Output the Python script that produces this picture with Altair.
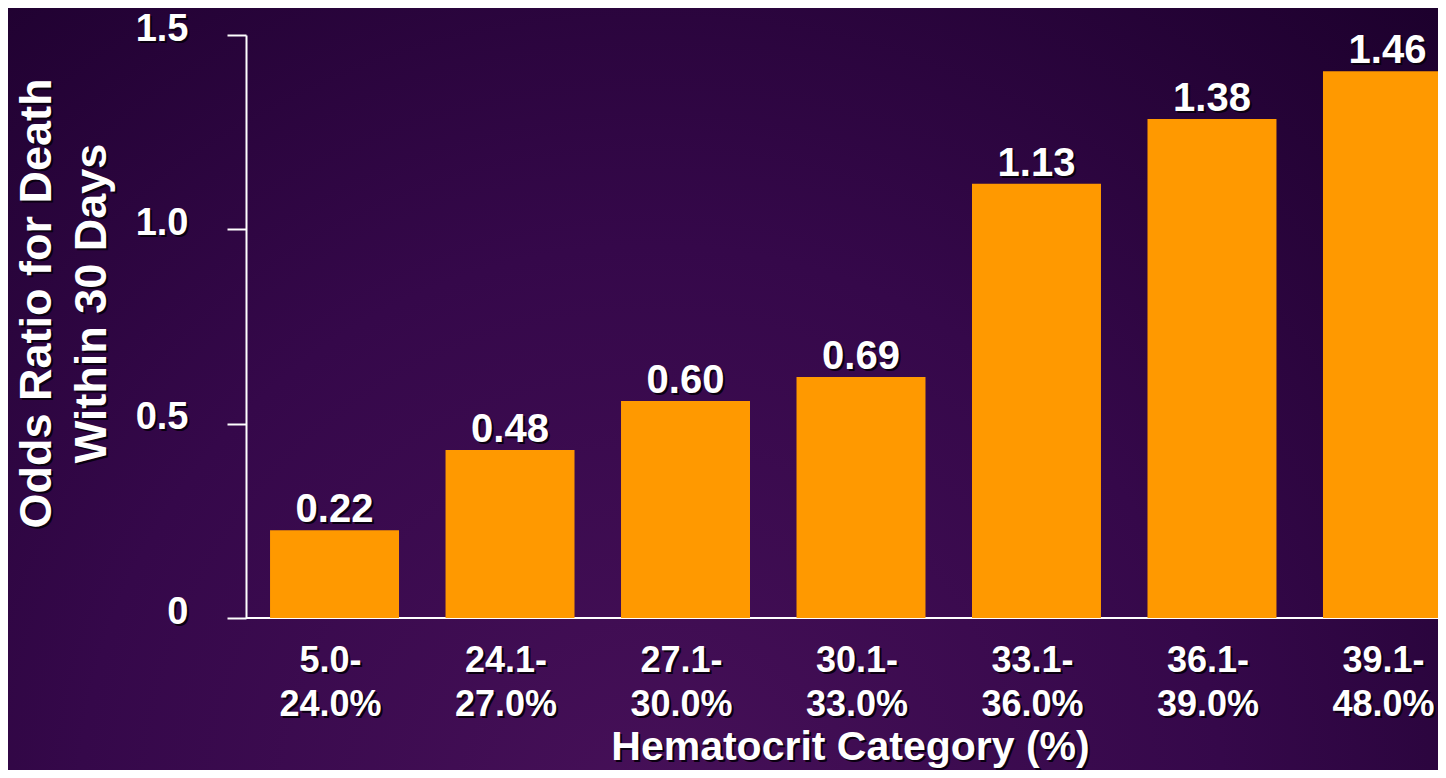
import altair as alt
import pandas as pd

# ---- data ----
categories = ["5.0-24.0%", "24.1-27.0%", "27.1-30.0%", "30.1-33.0%",
              "33.1-36.0%", "36.1-39.0%", "39.1-48.0%"]
bar_heights = [0.226, 0.432, 0.558, 0.620, 1.117, 1.284, 1.407]
bar_labels = ["0.22", "0.48", "0.60", "0.69", "1.13", "1.38", "1.46"]
y_ticks = [0, 0.5, 1.0, 1.5]
y_title = ["Odds Ratio for Death", "Within 30 Days"]
x_title = "Hematocrit Category (%)"

df = pd.DataFrame({"cat": categories, "val": bar_heights, "lab": bar_labels})
bg = pd.DataFrame({"k": [0]})

W, H = 1192, 583
PAD = {"left": 238, "top": 27, "right": 0, "bottom": 152}
TOTAL_H = PAD["top"] + H + PAD["bottom"]

FONT = "Liberation Sans"
WHITE = "#ffffff"
SHADOW = "#0a0010"
ORANGE = "#ff9900"

xscale = alt.Scale(domain=categories, range=[0, 1230], paddingInner=0.265, paddingOuter=0.137)
yscale = alt.Scale(domain=[0, 1.5], nice=False, zero=True)

X_LABEL_EXPR = "[split(datum.label, '-')[0] + '-', split(datum.label, '-')[1]]"
Y_LABEL_EXPR = "datum.value == 0 ? '0' : format(datum.value, '.1f')"


def y_axis(shadow):
    c = SHADOW if shadow else WHITE
    d = 2 if shadow else 0
    return alt.Axis(
        orient="left", values=y_ticks, labelExpr=Y_LABEL_EXPR,
        labelFont=FONT, labelFontSize=38, labelFontWeight="bold", labelColor=c,
        labelPadding=39 - d, labelOffset=-6 + d, labelOverlap=False,
        tickSize=19, tickColor=WHITE, tickWidth=2, tickOpacity=0 if shadow else 1,
        domainColor=WHITE, domainWidth=2, domainOpacity=0 if shadow else 1,
        grid=False,
        title=y_title, titleFont=FONT, titleFontSize=45, titleFontWeight="bold",
        titleColor=c, titleAlign="center", titleBaseline="alphabetic",
        titleX=-196 + d, titleY=268 + d, titleLineHeight=55, titleAngle=270,
        zindex=1,
    )


def x_axis(shadow):
    c = SHADOW if shadow else WHITE
    d = 2 if shadow else 0
    return alt.Axis(
        orient="bottom", labelExpr=X_LABEL_EXPR, labelAngle=0,
        labelFont=FONT, labelFontSize=36, labelFontWeight="bold", labelColor=c,
        labelPadding=25 + d, labelOffset=-4 + d, labelLineHeight=44, labelBaseline="top",
        labelOverlap=False, labelLimit=300,
        ticks=False, domain=False, grid=False,
        title=x_title, titleFont=FONT, titleFontSize=41, titleFontWeight="bold",
        titleColor=c, titleAlign="center", titleBaseline="alphabetic",
        titleX=604 + d, titleY=141 + d,
        zindex=1,
    )


grad = {
    "gradient": "radial",
    "x1": 0.45, "y1": 0.8, "r1": 0,
    "x2": 0.45, "y2": 0.8, "r2": 0.8,
    "stops": [
        {"offset": 0, "color": "#461058"},
        {"offset": 0.5, "color": "#35084a"},
        {"offset": 1, "color": "#1c002c"},
    ],
}

background = alt.Chart(bg).mark_rect(color=grad).encode(
    x=alt.value(-PAD["left"]), x2=alt.value(W),
    y=alt.value(-PAD["top"]), y2=alt.value(TOTAL_H - PAD["top"]),
)

shadow_axes = alt.Chart(df).mark_bar(opacity=0).encode(
    x=alt.X("cat:N", sort=categories, scale=xscale, axis=x_axis(True)),
    y=alt.Y("val:Q", scale=yscale, axis=y_axis(True)),
)

baseline = alt.Chart(bg).mark_rule(color=WHITE, strokeWidth=2).encode(
    y=alt.Y(datum=0, scale=yscale, axis=None),
)

bars = alt.Chart(df).mark_bar(color=ORANGE).encode(
    x=alt.X("cat:N", sort=categories, scale=xscale, axis=x_axis(False)),
    y=alt.Y("val:Q", scale=yscale, axis=y_axis(False)),
)

text_shadow = alt.Chart(df).mark_text(
    font=FONT, fontSize=40, fontWeight="bold", color=SHADOW,
    baseline="alphabetic", align="center", dx=2, dy=-6,
).encode(
    x=alt.X("cat:N", sort=categories, scale=xscale, axis=None),
    y=alt.Y("val:Q", scale=yscale, axis=None),
    text="lab:N",
)

text = alt.Chart(df).mark_text(
    font=FONT, fontSize=40, fontWeight="bold", color=WHITE,
    baseline="alphabetic", align="center", dy=-8,
).encode(
    x=alt.X("cat:N", sort=categories, scale=xscale, axis=None),
    y=alt.Y("val:Q", scale=yscale, axis=None),
    text="lab:N",
)

chart = alt.layer(
    background, shadow_axes, baseline, bars, text_shadow, text
).resolve_axis(
    x="independent", y="independent"
).properties(
    width=W, height=H,
    autosize=alt.AutoSizeParams(type="none"),
    padding=PAD,
    background="#2a0540",
).configure_view(stroke=None)

chart.save("out.html", embed_options={"renderer": "svg", "actions": False})
